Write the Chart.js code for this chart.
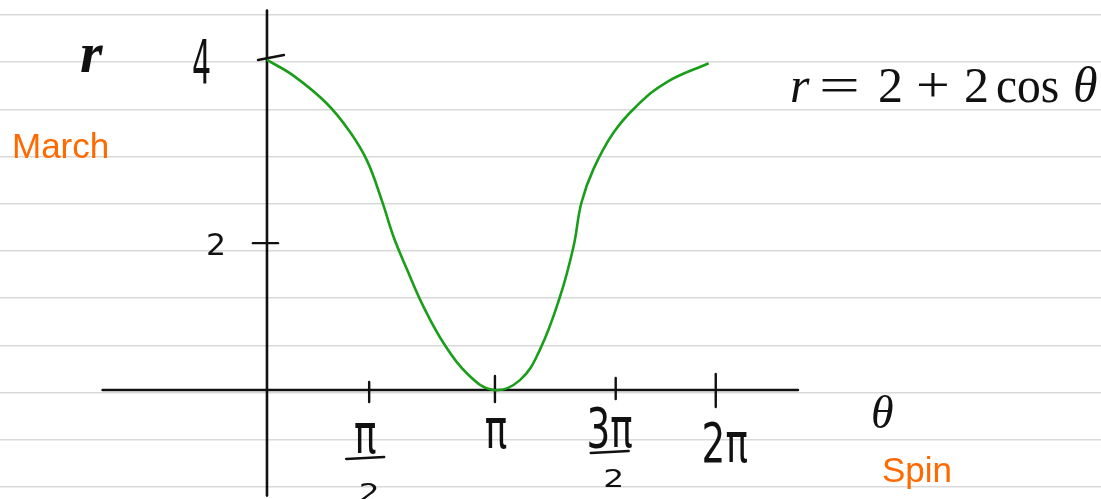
<!DOCTYPE html>
<html>
<head>
<meta charset="utf-8">
<script src="https://cdn.jsdelivr.net/npm/chart.js@4.4.1/dist/chart.umd.min.js"></script>
<style>
  html, body { margin: 0; padding: 0; background: #ffffff; }
  #wrap { width: 1101px; height: 499px; }
</style>
</head>
<body>
<div id="wrap"><canvas id="chart" width="1101" height="499"></canvas></div>
<script>
// Sketch of r = 2 + 2cos(theta)
const thetaValues = [0, 0.37, 0.84, 1.16, 1.40, 1.61, 1.77, 1.96, 2.19, 2.47, 2.80, 3.17, 3.54, 3.82, 4.10, 4.29, 4.40, 4.57, 4.85, 5.17, 5.59, 6.18];
const rValues = [4.0, 3.81, 3.47, 3.13, 2.78, 2.29, 1.86, 1.46, 1.01, 0.57, 0.20, 0.0, 0.12, 0.49, 1.13, 1.74, 2.27, 2.68, 3.12, 3.44, 3.73, 3.96];

// hand drawn ticks (where they sit on the sketch) and their labels
const thetaTicks = [1.43, 3.19, 4.88, 6.28];
const thetaTickLabels = [['π', '2'], ['π'], ['3π', '2'], ['2π']];
const rTicks = [1.78, 4.0];
const rTickLabels = ['2', '4'];

// how far the drawn axes reach
const thetaAxisRange = [-2.3, 7.43];
const rAxisRange = [-1.28, 4.6];

// ruled notebook lines, counted from the bottom one
const ruledLines = [0, 1, 2, 3, 4, 5, 6, 7, 8, 9, 10];

const INK = '#111111';
const ORANGE = '#ff6a00';
const GREEN = '#1a9e1a';

function drawText(ctx, txt, x, y, font, align, sx = 1, sy = 1) {
  ctx.save();
  ctx.translate(x, y);
  ctx.scale(sx, sy);
  ctx.font = font;
  ctx.textAlign = align;
  ctx.textBaseline = 'alphabetic';
  ctx.fillText(txt, 0, 0);
  ctx.restore();
}

function line(ctx, x1, y1, x2, y2, w) {
  ctx.beginPath();
  ctx.lineWidth = w;
  ctx.moveTo(x1, y1);
  ctx.lineTo(x2, y2);
  ctx.stroke();
}

const sketchPlugin = {
  id: 'sketch',
  beforeDatasetsDraw(chart) {
    const ctx = chart.ctx;
    const xs = chart.scales.x;
    const ys = chart.scales.y;
    const x0 = xs.getPixelForValue(0);
    const y0 = ys.getPixelForValue(0);

    ctx.save();
    ctx.strokeStyle = INK;
    ctx.fillStyle = INK;
    ctx.lineCap = 'round';

    // axes
    line(ctx, xs.getPixelForValue(thetaAxisRange[0]), y0, xs.getPixelForValue(thetaAxisRange[1]), y0, 2.6);
    line(ctx, x0, ys.getPixelForValue(rAxisRange[0]), x0, ys.getPixelForValue(rAxisRange[1]), 2.6);

    // theta ticks
    const up = [8, 14, 12, 16];
    const down = [12, 12, 9, 17];
    thetaTicks.forEach((t, i) => {
      const px = xs.getPixelForValue(t);
      line(ctx, px, y0 - up[i], px, y0 + down[i], 2.4);
    });

    // r ticks
    const left = [14, 9];
    const right = [11, 17];
    const slant = [0, -5];
    rTicks.forEach((v, i) => {
      const py = ys.getPixelForValue(v);
      line(ctx, x0 - left[i], py, x0 + right[i], py + slant[i], 2.4);
    });

    // r tick labels
    const rLabelX = [-41, -56];
    const rLabelFont = ['30px "DejaVu Sans"', '60px "DejaVu Sans"'];
    const rLabelSx = [1.05, 0.5];
    const rLabelDy = [12, 23];
    rTickLabels.forEach((lab, i) => {
      const py = ys.getPixelForValue(rTicks[i]);
      drawText(ctx, lab, x0 + rLabelX[i], py + rLabelDy[i], rLabelFont[i], 'right', rLabelSx[i], 1);
    });

    // theta tick labels (fractions drawn by hand)
    const labDx = [-4, 1, -6, 9];
    const numBase = [453, 448, 447, 462];
    const denDy = [48, 0, 40, 0];
    const piFont = '44px "DejaVu Sans"';
    thetaTickLabels.forEach((parts, i) => {
      const cx = xs.getPixelForValue(thetaTicks[i]) + labDx[i];
      drawText(ctx, parts[0], cx, numBase[i], piFont, 'center', 0.85, 1.25);
      if (parts.length > 1) {
        line(ctx, cx - 19, numBase[i] + 6, cx + 19, numBase[i] + 4, 2.4);
        drawText(ctx, parts[1], cx + 4, numBase[i] + denDy[i], '30px "DejaVu Sans"', 'center', 1.1, 0.8);
      }
    });

    // axis names
    drawText(ctx, 'r', 80, 72, 'bold italic 58px "Liberation Serif"', 'left');
    drawText(ctx, 'θ', 871, 428, 'italic 46px "Liberation Serif"', 'left');

    // equation, piece by piece like typeset math
    const eq = [
      { t: 'r', f: 'italic ', x: 790, sx: 1 },
      { t: '=', f: '', x: 819, sx: 1.45 },
      { t: '2', f: '', x: 878, sx: 1 },
      { t: '+', f: '', x: 916, sx: 1.2 },
      { t: '2', f: '', x: 964, sx: 1 },
      { t: 'cos', f: '', x: 996, sx: 0.95 },
      { t: 'θ', f: 'italic ', x: 1073, sx: 1 }
    ];
    eq.forEach(p => drawText(ctx, p.t, p.x, 102, p.f + '50px "Liberation Serif"', 'left', p.sx, 1));

    // orange captions
    ctx.fillStyle = ORANGE;
    drawText(ctx, 'March', 12, 158, '35px "Liberation Sans"', 'left');
    drawText(ctx, 'Spin', 882, 482, '35px "Liberation Sans"', 'left');

    ctx.restore();
  }
};

const points = thetaValues.map((t, i) => ({ x: t, y: rValues[i] }));

new Chart(document.getElementById('chart'), {
  type: 'line',
  data: {
    datasets: [{
      label: 'r = 2 + 2cos θ',
      data: points,
      borderColor: GREEN,
      borderWidth: 2.6,
      pointRadius: 0,
      tension: 0.4,
      fill: false
    }]
  },
  options: {
    responsive: false,
    animation: false,
    layout: { padding: 0 },
    plugins: {
      legend: { display: false },
      tooltip: { enabled: false }
    },
    scales: {
      x: { type: 'linear', min: -3.736, max: 11.671, display: false },
      y: { type: 'linear', min: -1.321, max: 4.727, display: false },
      paper: {
        type: 'linear',
        position: 'left',
        min: -0.254,
        max: 10.318,
        afterBuildTicks: scale => { scale.ticks = ruledLines.map(v => ({ value: v })); },
        ticks: { display: false },
        border: { display: false },
        grid: { color: '#d9d9d9', lineWidth: 1.5, drawTicks: false }
      }
    }
  },
  plugins: [sketchPlugin]
});
</script>
</body>
</html>
